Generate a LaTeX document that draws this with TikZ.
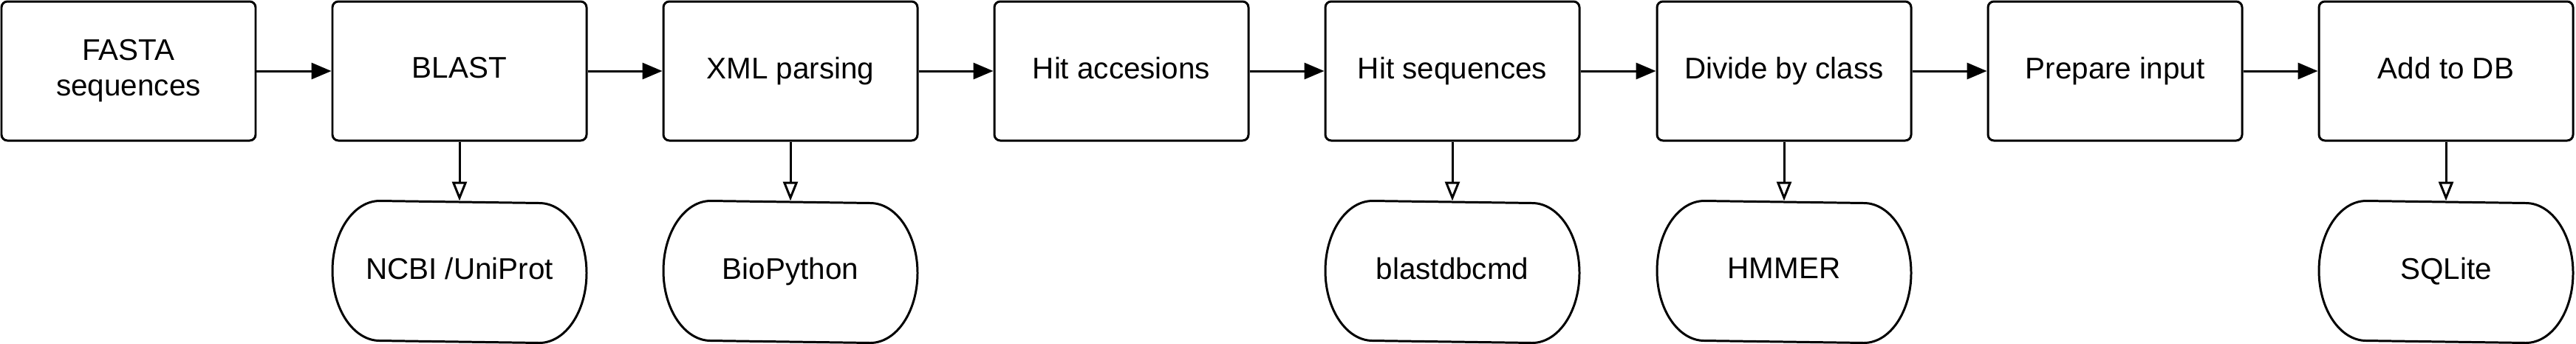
\documentclass[tikz,border=0pt]{standalone}
\usepackage{fontspec}
\setmainfont{Liberation Sans}
\usetikzlibrary{arrows.meta}
\begin{document}
\begin{tikzpicture}[line width=0.85pt,
  txt/.style={font=\fontsize{11.5}{13.9}\selectfont,text depth=2.6pt,align=center},
  stage/.style={txt,draw,rounded corners=0.08cm,minimum width=3.44cm,minimum height=1.88cm},
  tool/.style={txt,minimum width=3.44cm,minimum height=1.89cm},
  flow/.style={-{Triangle[length=2.7mm,width=2.2mm]}},
  uses/.style={-{Triangle[open,length=2.6mm,width=2mm]}}]
\useasboundingbox (0,0) rectangle (34.87,-4.64);
% pipeline
\node[stage] (fasta) at (1.74,-0.96) {FASTA\\sequences};
\node[stage] (blast) at (6.22,-0.96) {BLAST};
\node[stage] (xml) at (10.70,-0.96) {XML parsing};
\node[stage] (acc) at (15.18,-0.96) {Hit accesions};
\node[stage] (hitseq) at (19.66,-0.96) {Hit sequences};
\node[stage] (divide) at (24.15,-0.96) {Divide by class};
\node[stage] (prep) at (28.63,-0.96) {Prepare input};
\node[stage] (adddb) at (33.11,-0.96) {Add to DB};
% tools
\node[tool] (ncbi) at (6.22,-3.675) {NCBI /UniProt};
\node[tool] (biopy) at (10.70,-3.675) {BioPython};
\node[tool] (bdbcmd) at (19.66,-3.675) {blastdbcmd};
\node[tool] (hmmer) at (24.15,-3.675) {HMMER};
\node[tool] (sqlite) at (33.11,-3.675) {SQLite};
\foreach \n in {ncbi,biopy,bdbcmd,hmmer,sqlite}
  \draw ([xshift=-1.08cm]\n.north) arc[start angle=90,end angle=270,x radius=0.64cm,y radius=0.945cm]
    -- ([xshift=1.08cm]\n.south) arc[start angle=-90,end angle=90,x radius=0.64cm,y radius=0.945cm] -- cycle;
\draw[flow] (fasta) -- (blast);
\draw[flow] (blast) -- (xml);
\draw[flow] (xml) -- (acc);
\draw[flow] (acc) -- (hitseq);
\draw[flow] (hitseq) -- (divide);
\draw[flow] (divide) -- (prep);
\draw[flow] (prep) -- (adddb);
\draw[uses] (blast) -- (ncbi);
\draw[uses] (xml) -- (biopy);
\draw[uses] (hitseq) -- (bdbcmd);
\draw[uses] (divide) -- (hmmer);
\draw[uses] (adddb) -- (sqlite);
\end{tikzpicture}
\end{document}
